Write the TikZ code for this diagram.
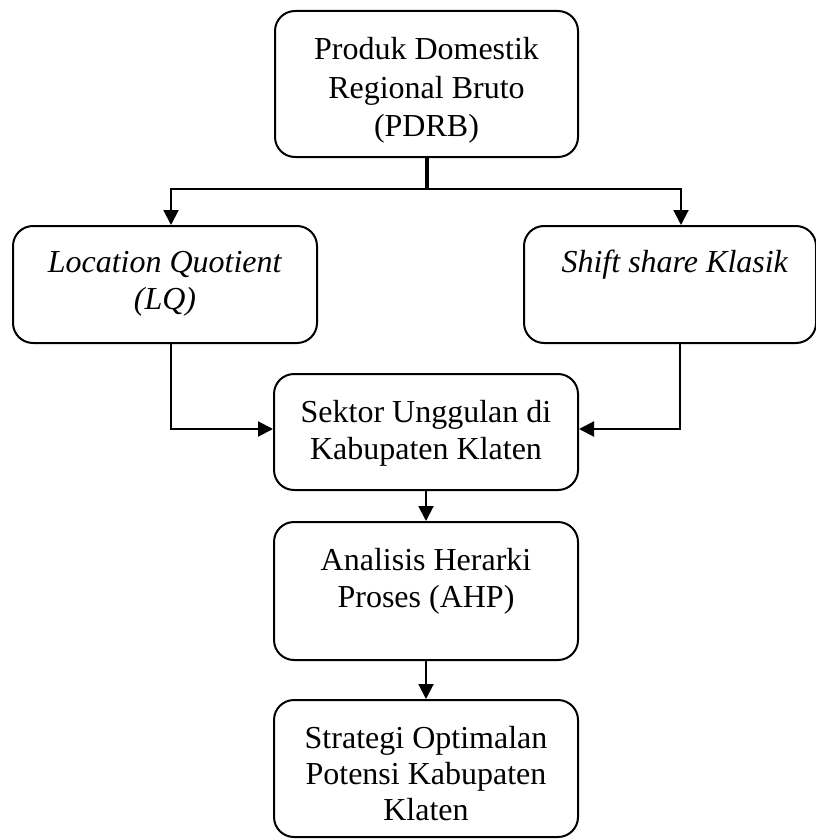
\documentclass[tikz,border=0pt]{standalone}
\usepackage{fontspec}
\setmainfont{Liberation Serif}
\usetikzlibrary{arrows.meta}
\begin{document}
\begin{tikzpicture}[x=1pt,y=-1pt,
  box/.style={draw, line width=2pt, rounded corners=20pt, rectangle, inner sep=0pt},
  txt/.style={inner sep=0pt, font=\fontsize{32}{37}\selectfont, anchor=base},
  conn/.style={line width=2pt},
  arr/.style={conn, -{Triangle[length=15pt,width=15pt]}}]
\useasboundingbox[fill=white] (0,0) rectangle (815,840);
% boxes
\node[box, minimum width=303pt, minimum height=146pt] (top) at (426.5,84) {};
\node[box, minimum width=304pt, minimum height=117pt] (lq) at (165,284.5) {};
\node[box, minimum width=292pt, minimum height=117pt] (sh) at (670,284.5) {};
\node[box, minimum width=304pt, minimum height=116pt] (sek) at (426,432) {};
\node[box, minimum width=304pt, minimum height=138pt] (ahp) at (426,591) {};
\node[box, minimum width=304pt, minimum height=137pt] (str) at (426,768.5) {};
% texts
\node[txt, font=\fontsize{32}{38.5}\selectfont] (ttop) at (426.5,60) {\begin{tabular}[t]{@{}c@{}}Produk Domestik\\Regional Bruto\\(PDRB)\end{tabular}};
\node[txt] (tlq) at (165,272) {\begin{tabular}[t]{@{}c@{}}\textit{Location Quotient}\\\textit{(LQ)}\end{tabular}};
\node[txt] (tsh) at (675,272) {\textit{Shift share Klasik}};
\node[txt] (tsek) at (426,422) {\begin{tabular}[t]{@{}c@{}}Sektor Unggulan di\\Kabupaten Klaten\end{tabular}};
\node[txt] (tahp) at (426,570) {\begin{tabular}[t]{@{}c@{}}Analisis Herarki\\Proses (AHP)\end{tabular}};
\node[txt, font=\fontsize{32}{36}\selectfont] (tstr) at (426,748) {\begin{tabular}[t]{@{}c@{}}Strategi Optimalan\\Potensi Kabupaten\\Klaten\end{tabular}};
% connectors
\coordinate (j) at ([yshift=-31pt]top.south);
\draw[line width=4pt] (top.south) -- (j);
\draw[arr] (j) -| ([xshift=6pt]lq.north);
\draw[arr] (j) -| ([xshift=11pt]sh.north);
\draw[arr] ([xshift=6pt]lq.south) |- ([yshift=3pt]sek.west);
\draw[arr] ([xshift=10pt]sh.south) |- ([yshift=3pt]sek.east);
\draw[arr] (sek.south) -- (ahp.north);
\draw[arr] (ahp.south) -- (str.north);
\end{tikzpicture}
\end{document}
